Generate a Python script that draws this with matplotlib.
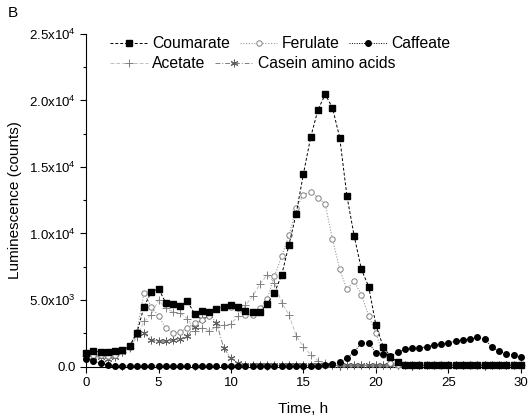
import numpy as np
import matplotlib
matplotlib.use("Agg")
import matplotlib.pyplot as plt
from matplotlib.ticker import MultipleLocator, FuncFormatter

plt.rcParams['font.family'] = ['Liberation Sans', 'DejaVu Sans']
plt.rcParams['mathtext.default'] = 'regular'

# tempo (h), un punto ogni mezz'ora
time_h = np.arange(0, 30.5, 0.5)

# valori in migliaia di conteggi
coumarate = [1.05, 1.15, 1.1, 1.1, 1.15, 1.25, 1.55, 2.5, 4.5, 5.6,
             5.85, 4.8, 4.7, 4.55, 4.9, 3.95, 4.2, 4.1, 4.35, 4.5,
             4.6, 4.45, 4.15, 4.1, 4.1, 4.7, 5.55, 6.9, 9.15, 11.5,
             14.5, 17.25, 19.3, 20.45, 19.45, 17.2, 12.8, 9.8, 7.3, 6.0,
             3.1, 1.5, 0.75, 0.33, 0.12,
             0.1, 0.12, 0.1, 0.11, 0.1, 0.12, 0.1, 0.1, 0.11, 0.1, 0.12, 0.1, 0.1, 0.11, 0.1, 0.1]
ferulate = [0.7, 0.9, 0.85, 0.8, 0.9, 1.2, 1.5, 2.6, 5.55, 4.5,
            3.8, 2.9, 2.5, 2.6, 2.9, 3.3, 3.5, 3.8, 4.3, 4.5,
            4.5, 4.4, 3.9, 3.9, 4.4, 5.1, 6.8, 8.3, 9.85, 11.9,
            12.9, 13.15, 12.7, 12.2, 9.6, 7.3, 5.8, 6.4, 5.4, 3.8,
            2.5, 0.9, 0.3, 0.15, 0.1,
            0.1, 0.1, 0.12, 0.1, 0.1, 0.11, 0.1, 0.1, 0.12, 0.1, 0.1, 0.1, 0.11, 0.1, 0.1, 0.1]
caffeate = [0.6, 0.45, 0.25, 0.1] + [0.05] * 29 + \
           [0.12, 0.2, 0.33, 0.63, 1.13, 1.76, 1.76, 1.05, 0.93, 0.8,
            1.08, 1.3, 1.4, 1.4, 1.5, 1.6, 1.68, 1.8, 1.9, 2.0,
            2.05, 2.2, 2.05, 1.45, 1.15, 0.95, 0.85, 0.7]
acetate = [0.8, 0.95, 0.9, 0.85, 0.9, 1.1, 1.4, 2.2, 3.4, 3.9,
           5.0, 4.4, 4.1, 4.0, 3.6, 2.7, 2.9, 2.7, 3.0, 3.1,
           3.2, 3.8, 4.6, 5.3, 6.2, 6.9, 6.3, 4.8, 3.9, 2.3,
           1.5, 0.9, 0.45, 0.25, 0.15] + [0.1] * 26
casein = [0.75, 0.75, 0.7, 0.6, 0.75, 1.1, 1.5, 2.4, 2.5, 2.0,
          1.9, 1.9, 2.0, 2.05, 2.3, 3.0, 3.6, 3.9, 3.3, 1.4,
          0.63, 0.25, 0.15] + [0.1] * 38

x_ticks = [0, 5, 10, 15, 20, 25, 30]
y_ticks = [0, 5000, 10000, 15000, 20000, 25000]


def sci(v, pos):
    if v == 0:
        return '0.0'
    e = int(np.floor(np.log10(v)))
    return f'{v / 10**e:.1f}x10$^{{{e}}}$'


fig = plt.figure(figsize=(5.31, 4.18), dpi=100)
ax = fig.add_axes([0.162, 0.123, 0.819, 0.796])

k = 1000
h_cou, = ax.plot(time_h, np.array(coumarate) * k, color='black', ls=(0, (3, 2)), lw=0.7,
                 marker='s', ms=3.8, mfc='black', mec='black', clip_on=False, zorder=5)
h_fer, = ax.plot(time_h, np.array(ferulate) * k, color='#999999', ls=(0, (1, 1.5)), lw=0.8,
                 marker='o', ms=3.9, mfc='white', mec='#808080', mew=0.7, clip_on=False, zorder=4)
h_caf, = ax.plot(time_h, np.array(caffeate) * k, color='black', ls=(0, (1, 1.5)), lw=0.7,
                 marker='o', ms=4.0, mfc='black', mec='black', clip_on=False, zorder=6)
h_ace, = ax.plot(time_h, np.array(acetate) * k, color='#c0c0c0', ls=(0, (4, 2)), lw=0.7,
                 marker='+', ms=6, mec='#808080', mew=0.7, clip_on=False, zorder=3)
h_cas, = ax.plot(time_h, np.array(casein) * k, color='#808080', ls=(0, (5, 2, 1, 2)), lw=0.7,
                 marker=(6, 2, 0), ms=5.5, mec='#606060', mew=0.7, clip_on=False, zorder=3)

ax.set_xlim(0, 30)
ax.set_ylim(0, 25000)
ax.set_xticks(x_ticks)
ax.set_yticks(y_ticks)
ax.xaxis.set_minor_locator(MultipleLocator(2.5))
ax.yaxis.set_minor_locator(MultipleLocator(2500))
ax.yaxis.set_major_formatter(FuncFormatter(sci))
ax.tick_params(which='major', direction='out', length=4, width=0.8, labelsize=9.5)
ax.tick_params(which='minor', direction='out', length=2.5, width=0.8)
for s in ['top', 'right']:
    ax.spines[s].set_visible(False)

ax.set_xlabel('Time, h', fontsize=11, labelpad=9)
ax.set_ylabel('Luminescence (counts)', fontsize=11, labelpad=5)

# legenda su due righe, come nell'originale
kw = dict(frameon=False, fontsize=11.3, handlelength=2.4, handletextpad=0.3,
          columnspacing=0.6, borderpad=0, borderaxespad=0, numpoints=1)
leg1 = fig.legend([h_cou, h_fer, h_caf], ['Coumarate', 'Ferulate', 'Caffeate'], ncol=3,
                  loc='upper left', bbox_to_anchor=(110 / 531, 1 - 36 / 418), **kw)
leg2 = fig.legend([h_ace, h_cas], ['Acetate', 'Casein amino acids'], ncol=2,
                  loc='upper left', bbox_to_anchor=(110 / 531, 1 - 56 / 418), **kw)

fig.text(8 / 531, 1 - 17 / 418, 'B', fontsize=11)

fig.savefig('out.png', dpi=100)
